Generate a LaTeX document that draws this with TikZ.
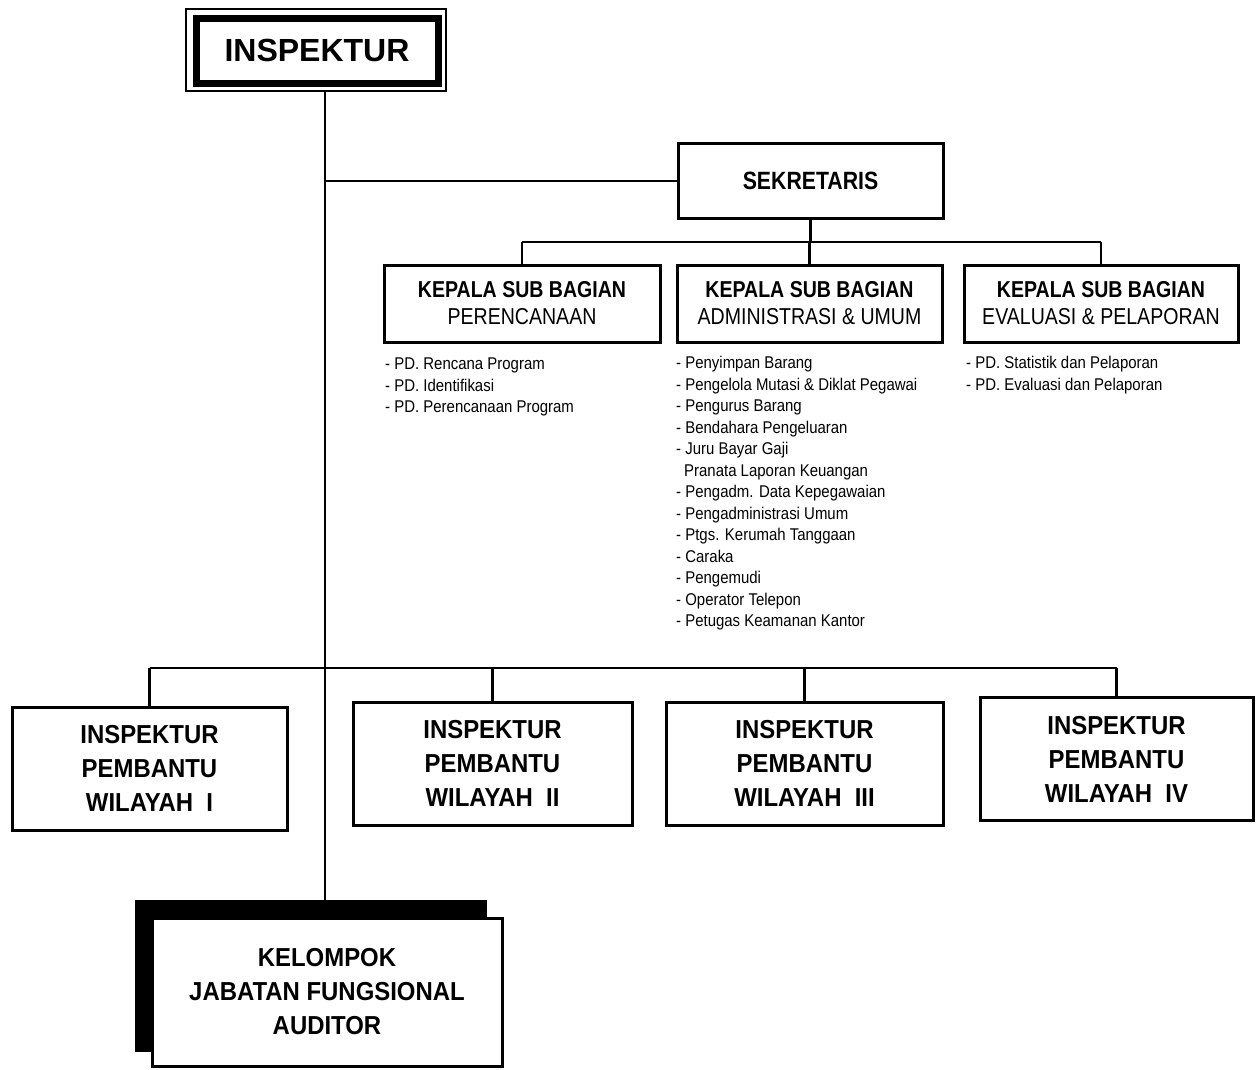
\documentclass[tikz,border=0pt]{standalone}
\usepackage{fontspec}
\setmainfont{Liberation Sans}
\newfontfamily\nar[FakeStretch=0.85]{Liberation Sans}
\newfontfamily\narw[FakeStretch=0.92]{Liberation Sans}
\newfontfamily\narl[FakeStretch=0.88]{Liberation Sans}
\begin{document}
\begin{tikzpicture}[x=1pt,y=-1pt,
  conn/.style={line width=2.8pt},
  box/.style={draw, line width=3pt, rectangle, inner sep=0pt, align=center, fill=white},
  kbox/.style={box, minimum height=77pt, font=\nar\fontsize{23}{27}\selectfont},
  wbox/.style={box, minimum height=123pt, font=\narw\bfseries\fontsize{26}{34}\selectfont},
  lst/.style={inner sep=0pt, anchor=north west, align=left, font=\narl\fontsize{17}{21.5}\selectfont}]
\useasboundingbox (0,0) rectangle (1257,1069);
% top
\node[draw, line width=7pt, minimum width=242pt, minimum height=65pt, inner sep=0pt,
  font=\bfseries\fontsize{32}{36}\selectfont] (insp) at (317,50.5) {INSPEKTUR};
\draw[line width=2.5pt] (186,9) rectangle (446,91);
% sekretaris
\node[box, minimum width=265pt, minimum height=75pt, font=\nar\bfseries\fontsize{25}{28}\selectfont] (sek) at (810.5,180.5) {SEKRETARIS};
% kepala sub bagian
\node[kbox, minimum width=276pt] (kp1) at (522,303.5) {\bfseries KEPALA SUB BAGIAN\\PERENCANAAN};
\node[kbox, minimum width=265pt] (kp2) at (809.5,303.5) {\bfseries KEPALA SUB BAGIAN\\ADMINISTRASI \& UMUM};
\node[kbox, minimum width=274pt] (kp3) at (1101,303.5) {\bfseries KEPALA SUB BAGIAN\\EVALUASI \& PELAPORAN};
% lists
\node[lst] (l1) at (385,358) {- PD. Rencana Program\\- PD. Identifikasi\\- PD. Perencanaan Program};
\node[lst] (l2) at (676,356) {- Penyimpan Barang\\- Pengelola Mutasi \& Diklat Pegawai\\- Pengurus Barang\\- Bendahara Pengeluaran\\- Juru Bayar Gaji\\\hspace*{8pt}Pranata Laporan Keuangan\\- Pengadm. Data Kepegawaian\\- Pengadministrasi Umum\\- Ptgs. Kerumah Tanggaan\\- Caraka\\- Pengemudi\\- Operator Telepon\\- Petugas Keamanan Kantor};
\node[lst] (l3) at (966,356) {- PD. Statistik dan Pelaporan\\- PD. Evaluasi dan Pelaporan};
% wilayah
\node[wbox, minimum width=275pt] (w1) at (149.5,768.5) {INSPEKTUR\\PEMBANTU\\WILAYAH\ \ I};
\node[wbox, minimum width=279pt] (w2) at (492.5,763.5) {INSPEKTUR\\PEMBANTU\\WILAYAH\ \ II};
\node[wbox, minimum width=277pt] (w3) at (804.5,763.5) {INSPEKTUR\\PEMBANTU\\WILAYAH\ \ III};
\node[wbox, minimum width=273pt] (w4) at (1116.5,759) {INSPEKTUR\\PEMBANTU\\WILAYAH\ \ IV};
% kelompok
\node[fill=black, minimum width=352pt, minimum height=152pt, inner sep=0pt] (kelsh) at (311,976) {};
\node[wbox, minimum width=350pt, minimum height=148pt] (kel) at (327,992) {KELOMPOK\\JABATAN FUNGSIONAL\\AUDITOR};
% connectors
\coordinate (vtop) at (325,92);
\coordinate (vsek) at (325,181);
\coordinate (vbus) at (325,668);
\coordinate (sbus) at (811,242);
\draw[conn] (vtop) -- (vtop |- kelsh.north);
\draw[conn] (vsek) -- (vsek -| sek.west);
\draw[conn] (sek.south) -- (sek.south |- sbus);
\draw[conn] (kp1.north |- sbus) -- (kp3.north |- sbus);
\foreach \k in {kp1,kp2,kp3} \draw[conn] (\k.north |- sbus) -- (\k.north);
\draw[conn] (w1.north |- vbus) -- (w4.north |- vbus);
\foreach \k in {w1,w2,w3,w4} \draw[conn] (\k.north |- vbus) -- (\k.north);
\end{tikzpicture}
\end{document}
